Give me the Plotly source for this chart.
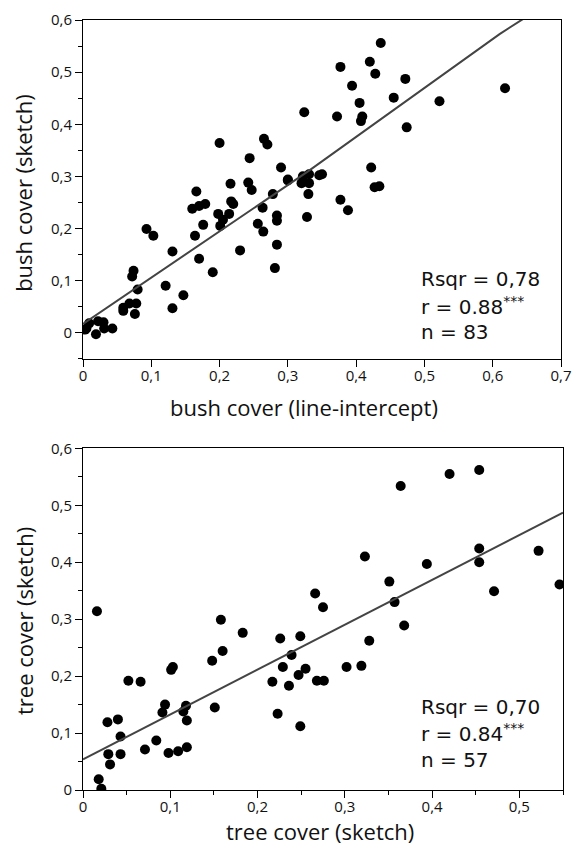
import plotly.graph_objects as go

# ---- Data: bush cover (top panel) ----
bush_line = [0.200, 0.244, 0.265, 0.270, 0.324, 0.290, 0.300, 0.322, 0.331, 0.346,
             0.350, 0.216, 0.242, 0.436, 0.377, 0.420, 0.428, 0.394, 0.472, 0.455,
             0.405, 0.372, 0.409, 0.407, 0.522, 0.618, 0.474, 0.422, 0.320, 0.331,
             0.330, 0.377, 0.388, 0.328, 0.427, 0.434, 0.278, 0.247, 0.217, 0.220,
             0.214, 0.198, 0.201, 0.205, 0.179, 0.170, 0.160, 0.166, 0.176, 0.164,
             0.170, 0.190, 0.230, 0.256, 0.263, 0.264, 0.284, 0.284, 0.284, 0.281,
             0.093, 0.103, 0.131, 0.074, 0.072, 0.080, 0.121, 0.147, 0.131, 0.059,
             0.059, 0.068, 0.078, 0.076, 0.005, 0.019, 0.022, 0.030, 0.031, 0.043,
             0.009, 0.003, 0.300]
bush_sketch = [0.364, 0.335, 0.372, 0.361, 0.423, 0.317, 0.294, 0.300, 0.304, 0.302,
               0.304, 0.286, 0.288, 0.556, 0.510, 0.520, 0.497, 0.474, 0.487, 0.451,
               0.441, 0.415, 0.415, 0.406, 0.444, 0.469, 0.394, 0.317, 0.287, 0.287,
               0.266, 0.255, 0.235, 0.222, 0.279, 0.281, 0.266, 0.274, 0.252, 0.247,
               0.228, 0.228, 0.205, 0.217, 0.247, 0.243, 0.238, 0.271, 0.207, 0.186,
               0.142, 0.116, 0.158, 0.209, 0.240, 0.194, 0.225, 0.215, 0.169, 0.124,
               0.199, 0.186, 0.156, 0.119, 0.108, 0.083, 0.090, 0.072, 0.047, 0.048,
               0.042, 0.056, 0.056, 0.036, 0.008, -0.003, 0.022, 0.020, 0.008, 0.008,
               0.018, 0.006, 0.292]
bush_fit_x = [0.0, 0.33, 0.61, 0.66]
bush_fit_y = [0.017, 0.31, 0.573, 0.615]

# ---- Data: tree cover (bottom panel) ----
tree_x = [0.016, 0.158, 0.183, 0.226, 0.249, 0.266, 0.275, 0.364, 0.420, 0.454,
          0.323, 0.454, 0.454, 0.522, 0.394, 0.351, 0.546, 0.471, 0.357, 0.368,
          0.239, 0.229, 0.255, 0.247, 0.236, 0.217, 0.268, 0.276, 0.223, 0.249,
          0.148, 0.160, 0.151, 0.103, 0.101, 0.052, 0.066, 0.094, 0.091, 0.118,
          0.115, 0.119, 0.084, 0.071, 0.098, 0.109, 0.119, 0.028, 0.040, 0.043,
          0.029, 0.043, 0.031, 0.018, 0.021, 0.328, 0.302, 0.319]
tree_y = [0.314, 0.299, 0.276, 0.266, 0.270, 0.345, 0.321, 0.534, 0.555, 0.562,
          0.410, 0.424, 0.400, 0.420, 0.397, 0.366, 0.361, 0.349, 0.330, 0.289,
          0.237, 0.216, 0.213, 0.202, 0.183, 0.190, 0.192, 0.192, 0.134, 0.112,
          0.227, 0.244, 0.145, 0.216, 0.211, 0.192, 0.190, 0.150, 0.136, 0.148,
          0.138, 0.122, 0.087, 0.071, 0.065, 0.068, 0.075, 0.119, 0.124, 0.094,
          0.063, 0.063, 0.045, 0.019, 0.002, 0.262, 0.216, 0.218]
tree_fit_x = [0.0, 0.55]
tree_fit_y = [0.054, 0.487]

bush_stats = ["Rsqr = 0,78", "r = 0.88<sup>***</sup>", "n = 83"]
tree_stats = ["Rsqr = 0,70", "r = 0.84<sup>***</sup>", "n = 57"]

TICKFONT = dict(family="Open Sans", size=15, color="#111")
TITLEFONT = dict(family="Open Sans", size=22, color="#111")
STATFONT = dict(family="DejaVu Sans", size=20, color="#111")

fig = go.Figure()
mk = dict(color="black", size=10, line=dict(width=0))
fig.add_trace(go.Scatter(x=bush_line, y=bush_sketch, mode="markers", marker=mk,
                         xaxis="x", yaxis="y", showlegend=False))
fig.add_trace(go.Scatter(x=bush_fit_x, y=bush_fit_y, mode="lines",
                         line=dict(color="#444", width=2), xaxis="x", yaxis="y",
                         showlegend=False))
fig.add_trace(go.Scatter(x=tree_x, y=tree_y, mode="markers", marker=mk,
                         xaxis="x2", yaxis="y2", showlegend=False))
fig.add_trace(go.Scatter(x=tree_fit_x, y=tree_fit_y, mode="lines",
                         line=dict(color="#444", width=2), xaxis="x2", yaxis="y2",
                         showlegend=False))

axis_common = dict(showline=True, linecolor="black", linewidth=1, mirror=True,
                   ticks="outside", ticklen=7, tickwidth=1, tickcolor="black",
                   showgrid=False, zeroline=False, tickfont=TICKFONT)
minor_ticks = dict(ticks="outside", ticklen=4, dtick=0.05, tick0=0,
                   tickcolor="black")

fig.update_layout(
    width=583, height=850,
    margin=dict(l=83, r=9, t=17, b=60),
    paper_bgcolor="white", plot_bgcolor="white",
    separators=",.",
    xaxis=dict(domain=[0, 0.9959], range=[0, 0.7], dtick=0.1, tick0=0,
               anchor="y", ticklabelstandoff=-4, **axis_common),
    yaxis=dict(domain=[0.560, 1.0], range=[-0.05, 0.6], dtick=0.1, tick0=0,
               anchor="x", minor=minor_ticks, **axis_common),
    xaxis2=dict(domain=[0, 1.0], range=[0, 0.55], dtick=0.1, tick0=0,
                anchor="y2", minor=minor_ticks, ticklabelstandoff=-4,
                **axis_common),
    yaxis2=dict(domain=[0, 0.4437], range=[0, 0.6], dtick=0.1, tick0=0,
                anchor="x2", minor=minor_ticks, **axis_common),
)

ann = []
# axis titles
ann.append(dict(text="bush cover (line-intercept)", xref="paper", yref="paper",
                x=0.46, y=(790 - 406) / 773, showarrow=False, font=TITLEFONT,
                xanchor="center", yanchor="middle"))
ann.append(dict(text="bush cover (sketch)", xref="paper", yref="paper",
                x=-0.1242, y=0.776, showarrow=False, font=TITLEFONT, textangle=-90,
                xanchor="center", yanchor="middle"))
ann.append(dict(text="tree cover (sketch)", xref="paper", yref="paper",
                x=0.493, y=(790 - 831) / 773, showarrow=False, font=TITLEFONT,
                xanchor="center", yanchor="middle"))
ann.append(dict(text="tree cover (sketch)", xref="paper", yref="paper",
                x=-0.1242, y=0.22, showarrow=False, font=TITLEFONT, textangle=-90,
                xanchor="center", yanchor="middle"))

# stats
top_px = [277, 304, 330]
bot_px = [707, 733, 760]
for txt, py in zip(bush_stats, top_px):
    ann.append(dict(text=txt, xref="paper", yref="paper", x=(427 - 83) / 491,
                    y=(790 - py) / 773, xanchor="left", yanchor="middle",
                    showarrow=False, font=STATFONT))
for txt, py in zip(tree_stats, bot_px):
    ann.append(dict(text=txt, xref="paper", yref="paper", x=(427 - 83) / 491,
                    y=(790 - py) / 773, xanchor="left", yanchor="middle",
                    showarrow=False, font=STATFONT))

fig.update_layout(annotations=ann)
fig.write_html("out.html")
